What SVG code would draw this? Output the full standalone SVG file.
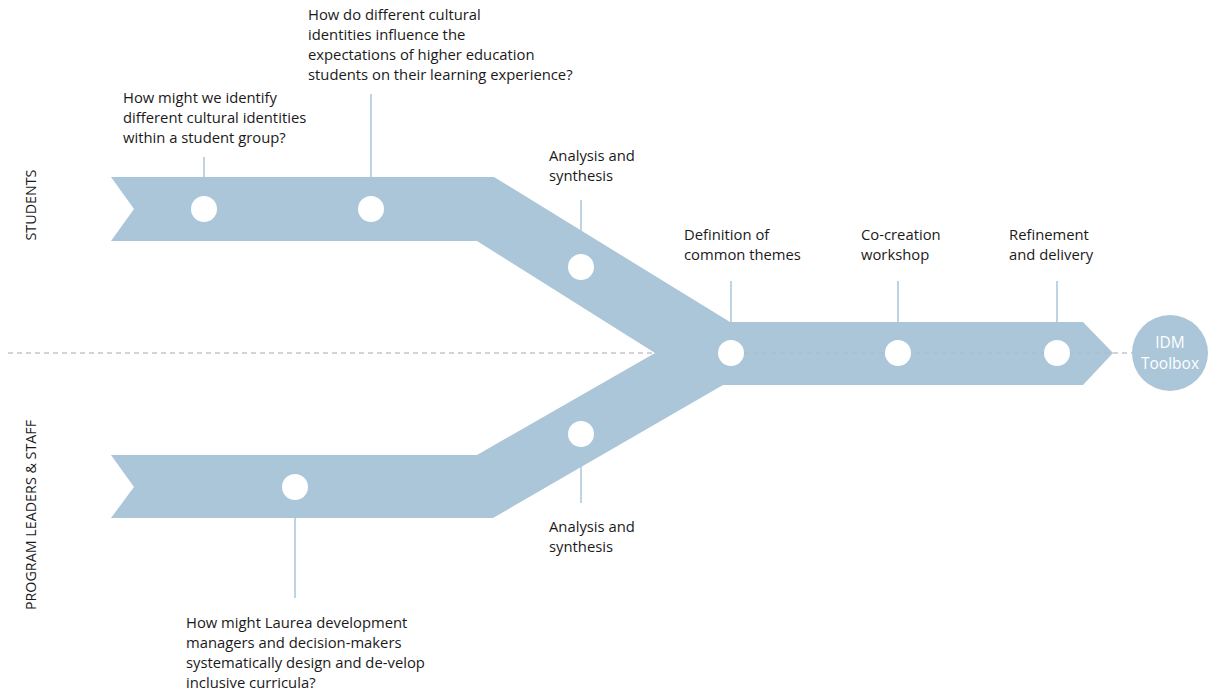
<svg xmlns="http://www.w3.org/2000/svg" width="1215" height="692" viewBox="0 0 1215 692">
  <style>
    .band { fill: #aac6d8; }
    .dot { fill: #ffffff; }
    .tick { stroke: #aac6d8; stroke-width: 1.5; fill: none; }
    .axis { stroke: #a8a8a8; stroke-width: 1; stroke-dasharray: 5 4; fill: none; }
    .lbl { font-family: "Open Sans", "Liberation Sans", sans-serif; font-size: 14.8px; fill: #1a1a1a; }
    .lane { font-family: "Open Sans", "Liberation Sans", sans-serif; font-size: 14.3px; fill: #1a1a1a; text-anchor: middle; }
    .hub { font-family: "Open Sans", "Liberation Sans", sans-serif; font-size: 15.5px; fill: #ffffff; text-anchor: middle; }
  </style>

  <rect width="1215" height="692" fill="#ffffff"/>

  <!-- centre axis -->
  <line class="axis" x1="8" y1="353" x2="660" y2="353"/>

  <!-- merging ribbon -->
  <g id="ribbon">
    <polygon class="band" points="111,177 494,177 730,322 1083,322 1113,353 1083,385 723,385 493,518 111,518 134,487 111,455 477,455 655,353 477,241 111,241 134,209"/>
    <line class="axis" x1="744" y1="353" x2="1110" y2="353" opacity="0.3"/>
    <line class="axis" x1="1113" y1="353" x2="1132" y2="353"/>
  </g>

  <!-- lane labels -->
  <text class="lane" transform="translate(36 205) rotate(-90)">STUDENTS</text>
  <text class="lane" transform="translate(36 515) rotate(-90)">PROGRAM LEADERS &amp; STAFF</text>

  <!-- leader lines -->
  <g id="connectors">
    <line class="tick" x1="204" y1="157" x2="204" y2="177"/>
    <line class="tick" x1="371" y1="94" x2="371" y2="177"/>
    <line class="tick" x1="581" y1="200" x2="581" y2="232"/>
    <line class="tick" x1="731" y1="281" x2="731" y2="322"/>
    <line class="tick" x1="898" y1="281" x2="898" y2="322"/>
    <line class="tick" x1="1057" y1="281" x2="1057" y2="322"/>
    <line class="tick" x1="581" y1="466" x2="581" y2="503"/>
    <line class="tick" x1="295" y1="518" x2="295" y2="598"/>
  </g>

  <g id="identify">
    <circle class="dot" cx="204" cy="209" r="13"/>
    <text class="lbl" x="123" y="103">How might we identify</text>
    <text class="lbl" x="123" y="123">different cultural identities</text>
    <text class="lbl" x="123" y="143">within a student group?</text>
  </g>

  <g id="expectations">
    <circle class="dot" cx="371" cy="209" r="13"/>
    <text class="lbl" x="308" y="20">How do different cultural</text>
    <text class="lbl" x="308" y="40">identities influence the</text>
    <text class="lbl" x="308" y="60">expectations of higher education</text>
    <text class="lbl" x="308" y="80">students on their learning experience?</text>
  </g>

  <g id="analysis-students">
    <circle class="dot" cx="581" cy="267" r="13"/>
    <text class="lbl" x="549" y="161">Analysis and</text>
    <text class="lbl" x="549" y="181">synthesis</text>
  </g>

  <g id="themes">
    <circle class="dot" cx="731" cy="353" r="13"/>
    <text class="lbl" x="684" y="240">Definition of</text>
    <text class="lbl" x="684" y="260">common themes</text>
  </g>

  <g id="workshop">
    <circle class="dot" cx="898" cy="353" r="13"/>
    <text class="lbl" x="861" y="240">Co-creation</text>
    <text class="lbl" x="861" y="260">workshop</text>
  </g>

  <g id="delivery">
    <circle class="dot" cx="1057" cy="353" r="13"/>
    <text class="lbl" x="1009" y="240">Refinement</text>
    <text class="lbl" x="1009" y="260">and delivery</text>
  </g>

  <g id="analysis-staff">
    <circle class="dot" cx="581" cy="434" r="13"/>
    <text class="lbl" x="549" y="532">Analysis and</text>
    <text class="lbl" x="549" y="552">synthesis</text>
  </g>

  <g id="curricula">
    <circle class="dot" cx="295" cy="487" r="13"/>
    <text class="lbl" x="186" y="628">How might Laurea development</text>
    <text class="lbl" x="186" y="648">managers and decision-makers</text>
    <text class="lbl" x="186" y="668">systematically design and de-velop</text>
    <text class="lbl" x="186" y="688">inclusive curricula?</text>
  </g>

  <g id="toolbox">
    <circle class="band" cx="1170" cy="353" r="38"/>
    <text class="hub" x="1170" y="348">IDM</text>
    <text class="hub" x="1170" y="369">Toolbox</text>
  </g>
</svg>
